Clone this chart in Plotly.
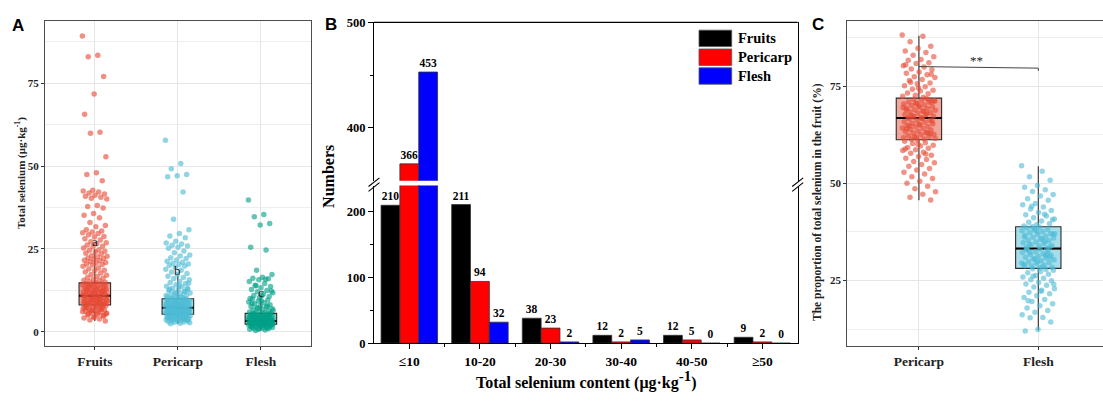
import plotly.graph_objects as go

W, H = 1103, 403
SERIF = "Liberation Serif"
SANS = "Liberation Sans"

# ---------------- Panel A data: total selenium (ug/kg) ----------------
groups_a = ["Fruits", "Pericarp", "Flesh"]
colors_a = ["#E64B35", "#4DBBD5", "#00A087"]
fruits_se = [
    89.2, 83.4, 83.0, 77.0, 71.7, 65.6, 60.2, 59.9, 52.8,
    48.0, 47.5, 45.6, 42.7, 42.5, 42.2, 41.9, 41.6, 41.2, 40.9, 40.6, 40.3, 40.1,
    38.1, 37.8, 37.4, 35.7, 35.2, 34.4, 33.0, 32.1, 31.7, 30.8, 30.4, 30.1,
    29.9, 29.7, 29.3, 28.8, 28.6, 28.1, 27.7, 27.2, 26.9, 26.6, 26.2, 25.8, 25.7, 25.3, 24.8, 24.6,
    24.3, 24.1, 23.7, 23.5, 23.0, 22.8, 22.6, 22.3, 22.1, 21.8, 21.6, 21.5, 21.2, 20.9, 20.8, 20.5, 20.3, 20.2,
    19.8, 19.3, 19.0, 18.6, 18.5, 18.1, 17.8, 17.3, 17.1, 16.7, 16.4, 16.2, 15.9, 15.6, 15.4, 15.1, 15.0,
    14.9, 14.7, 14.6, 14.3, 14.2, 14.0, 13.8, 13.7, 13.5, 13.3, 13.1, 13.0, 12.8, 12.6, 12.5, 12.3, 12.2,
    12.0, 11.9, 11.7, 11.5, 11.4, 11.2, 11.1, 10.9, 10.9, 10.7, 10.6, 10.4, 10.3, 10.1, 10.0,
    14.4, 13.9, 13.2, 12.7, 12.1, 11.6, 11.0, 10.5, 13.6, 12.4, 11.8, 10.8,
    9.9, 9.8, 9.6, 9.5, 9.4, 9.2, 9.1, 8.9, 8.8, 8.7, 8.5, 8.4, 8.2, 8.1, 9.7, 9.3, 9.0, 8.6, 8.3,
    9.85, 9.15, 8.65, 8.05,
    7.9, 7.8, 7.6, 7.4, 7.2, 7.1, 6.9, 6.7, 6.6, 6.4, 6.2, 6.0, 5.8, 5.6, 5.3, 5.1, 4.8, 4.5, 4.2, 3.9, 3.6, 3.3,
    7.7, 7.3, 6.8, 6.5, 6.1, 5.7, 5.4, 4.9, 4.4, 7.5, 7.0, 6.3, 5.5,
]
pericarp_se = [
    57.8, 50.8, 49.2, 47.5, 47.1, 46.8, 42.2, 34.0, 30.8,
    29.7, 28.9, 28.4, 27.3, 26.8, 26.5, 26.1, 25.9, 25.5, 25.2, 24.4, 23.9, 23.2, 22.9, 22.4, 22.1,
    21.7, 21.3, 21.0, 20.7, 20.5, 20.3, 20.1,
    19.9, 19.4, 18.9, 18.6, 18.1, 17.6, 17.3, 16.8, 16.4, 16.1, 15.7, 15.2, 14.9, 14.6, 14.2, 13.8,
    13.6, 13.2, 12.9, 12.7, 12.4, 12.1, 11.9, 11.7, 11.4, 11.2, 10.9, 10.7, 10.5, 10.3, 10.1,
    14.7, 13.9, 12.8, 12.2, 11.5, 11.0, 10.6, 10.2, 13.1,
    9.9, 9.8, 9.6, 9.5, 9.4, 9.2, 9.1, 8.9, 8.8, 8.7, 8.5, 8.4, 8.2, 8.1, 8.0, 7.9, 7.7, 7.6, 7.5,
    7.4, 7.3, 9.7, 9.3, 9.0, 8.6, 8.3, 7.8, 7.5, 9.9, 8.9, 8.4, 7.9, 7.4, 9.5, 8.5, 7.6,
    7.2, 7.1, 7.0, 6.9, 6.8, 6.7, 6.6, 6.5, 6.4, 6.3, 6.2, 6.1, 6.0, 5.9, 5.8, 5.7, 5.6, 5.5, 5.4,
    7.1, 6.8, 6.5, 6.2, 5.9, 5.6, 5.4, 7.0, 6.4, 6.0, 5.7, 6.9, 6.3,
    5.3, 5.2, 5.1, 5.0, 4.9, 4.8, 4.7, 4.6, 4.5, 4.4, 4.3, 4.2, 4.1, 4.0, 3.9, 3.8, 3.7, 3.6, 3.5,
    3.4, 3.3, 3.2, 3.1, 3.0, 2.9, 2.8, 2.6, 2.5, 5.2, 4.8, 4.5, 4.2, 3.9, 3.6, 5.0, 4.4, 3.8,
]
flesh_se = [
    39.8, 35.4, 34.7, 32.7, 32.2, 25.5, 24.7,
    18.6, 17.3, 16.5, 16.2, 16.0, 15.7, 15.2, 14.6, 14.1, 13.7, 13.3, 12.8, 12.5, 12.1, 11.8, 11.4,
    11.0, 10.7, 10.4, 10.1, 15.9, 13.9, 12.3, 10.9,
    9.9, 9.6, 9.3, 9.0, 8.8, 8.5, 8.2, 8.0, 7.7, 7.5, 7.3, 7.0, 6.8, 6.6, 6.4, 6.2, 6.0, 5.9, 5.8,
    5.7, 9.4, 8.6, 7.8, 7.1, 6.5,
    5.5, 5.4, 5.3, 5.2, 5.1, 5.0, 4.9, 4.8, 4.7, 4.6, 4.5, 4.4, 4.3, 4.2, 4.1, 4.0, 3.9, 3.8, 3.7,
    3.6, 3.5, 3.4, 5.4, 5.1, 4.8, 4.5, 4.2, 3.9, 3.6, 3.4, 5.2, 4.6, 4.0, 3.5, 4.3,
    3.3, 3.2, 3.2, 3.1, 3.1, 3.0, 3.0, 2.9, 2.9, 2.8, 2.8, 2.7, 2.7, 2.6, 2.6, 2.5, 2.5, 2.4, 2.4,
    2.3, 2.3, 3.2, 3.0, 2.8, 2.6, 2.4, 3.1, 2.7, 2.5,
    2.2, 2.2, 2.1, 2.0, 1.9, 1.9, 1.8, 1.7, 1.6, 1.5, 1.4, 1.3, 1.2, 1.1, 1.0, 0.9, 0.8, 0.6, 0.4,
    2.1, 1.8, 1.5, 1.2, 0.9,
]
box_q1_a = [8.1, 5.35, 2.3]
box_median_a = [10.9, 7.3, 3.3]
box_q3_a = [14.8, 10.0, 5.6]
box_low_a = [3.3, 2.5, 0.4]
box_up_a = [24.9, 16.9, 10.5]
letters_a = ["a", "b", "c"]
letter_y_a = [27.3, 18.6, 12.0]

# ---------------- Panel B data: counts per content class ----------------
bins_b = ["≤10", "10-20", "20-30", "30-40", "40-50", "≥50"]
series_b = ["Fruits", "Pericarp", "Flesh"]
counts_fruits = [210, 211, 38, 12, 12, 9]
counts_pericarp = [366, 94, 23, 2, 5, 2]
counts_flesh = [453, 32, 2, 5, 0, 0]
colors_b = ["#000000", "#FF0000", "#0000FF"]

# ---------------- Panel C data: proportion of total selenium (%) ----------------
groups_c = ["Pericarp", "Flesh"]
colors_c = ["#E64B35", "#4DBBD5"]
pericarp_pct = [
    88.1, 87.8, 86.4, 85.2, 84.7, 84.0, 83.6, 82.9, 82.5, 81.8, 81.6, 81.0, 80.8, 80.2, 79.9, 79.4,
    79.2, 78.6, 78.3, 77.9, 77.4, 77.2, 76.7, 76.4, 75.8, 75.6, 75.1, 74.8, 74.2, 73.9, 73.7, 73.2,
    73.0, 72.6, 72.4, 72.1, 76.0, 78.0, 74.5, 80.5,
    71.8, 71.6, 71.3, 71.2, 70.9, 70.8, 70.5, 70.4, 70.1, 70.0, 69.7, 69.6, 69.3, 69.2, 68.9, 68.8,
    68.5, 68.4, 68.1, 68.0, 67.7, 67.6, 67.3, 67.2, 66.9, 66.9, 71.5, 70.6, 69.5, 68.6, 67.5, 70.9,
    69.9, 68.9, 67.9, 67.0, 71.1,
    66.7, 66.5, 66.2, 66.1, 65.8, 65.7, 65.4, 65.3, 65.0, 64.9, 64.6, 64.5, 64.2, 64.1, 63.8, 63.7,
    63.4, 63.3, 63.0, 62.9, 62.6, 62.5, 62.2, 62.1, 61.8, 61.7, 61.4, 61.3, 66.0, 65.1, 64.0, 63.1,
    62.0, 61.5, 66.6, 64.7, 62.7,
    61.1, 60.8, 60.4, 60.2, 59.8, 59.6, 59.2, 59.0, 58.6, 58.4, 58.0, 57.7, 57.2, 56.9, 56.4, 56.1,
    55.6, 55.3, 54.8, 54.4, 53.8, 53.4, 52.8, 52.4, 51.7, 51.2, 50.5, 50.0, 49.2, 48.6, 47.8, 47.2,
    46.4, 45.7, 60.0, 58.8, 57.5,
]
flesh_pct = [
    54.5, 53.1, 51.7, 50.8, 49.4, 49.0, 48.3, 47.9, 47.1, 46.7, 46.0, 45.6, 44.8, 44.5, 43.9, 43.4,
    43.0, 42.5, 41.9, 41.6, 41.1, 40.8, 40.3, 40.0, 39.6, 39.3, 39.0, 42.0, 44.1, 40.6,
    38.7, 38.5, 38.2, 38.0, 37.8, 37.5, 37.3, 37.1, 36.8, 36.6, 36.4, 36.1, 35.9, 35.6, 35.4, 35.2,
    34.9, 34.7, 34.5, 34.2, 34.0, 33.8, 33.5, 33.3, 38.4, 37.0, 35.8, 34.4, 33.6, 37.6, 36.2, 35.0,
    38.8, 36.9,
    33.1, 32.9, 32.6, 32.4, 32.2, 31.9, 31.7, 31.5, 31.2, 31.0, 30.8, 30.5, 30.3, 30.1, 29.8, 29.6,
    29.4, 29.1, 28.9, 28.7, 28.4, 28.2, 33.0, 31.8, 30.6, 29.5, 28.5, 32.3, 30.9, 29.9, 28.8, 31.4,
    28.0, 27.6, 27.3, 27.0, 26.6, 26.3, 25.9, 25.6, 25.2, 24.9, 24.5, 24.1, 23.8, 23.3, 22.9, 22.5,
    22.0, 21.6, 21.1, 20.6, 20.1, 19.6, 19.0, 18.5, 17.9, 17.3, 16.8, 16.2, 15.5, 15.4, 14.3, 12.4,
    12.0, 27.8, 26.1, 24.0, 22.2, 19.8,
]
box_q1_c = [61.2, 28.1]
box_median_c = [66.8, 33.2]
box_q3_c = [71.9, 38.8]
box_low_c = [45.6, 12.2]
box_up_c = [87.9, 54.4]
sig_label = "**"
sig_y = [80.0, 79.6, 78.9]


# ---------------- helpers ----------------
def px(x):
    return x / W


def py(y):
    return 1 - y / H


def rgba(hexcol, a):
    h = hexcol.lstrip("#")
    return "rgba(%d,%d,%d,%.2f)" % (int(h[0:2], 16), int(h[2:4], 16), int(h[4:6], 16), a)


def jitter(center, n, half):
    # deterministic low-discrepancy spread (golden-ratio sequence)
    return [center + (((k * 0.6180339887) % 1.0) - 0.5) * 2 * half for k in range(n)]


def add_boxes(fig, q1, med, q3, lo, up, cols, alpha, xa, ya):
    for i, col in enumerate(cols):
        fig.add_trace(go.Box(
            x=[i + 1], q1=[q1[i]], median=[med[i]], q3=[q3[i]],
            lowerfence=[lo[i]], upperfence=[up[i]],
            width=0.38, fillcolor=rgba(col, alpha), line=dict(color="#2b2b2b", width=1.1),
            whiskerwidth=0, boxpoints=False, xaxis=xa, yaxis=ya, showlegend=False,
            hoverinfo="skip"))
        # thicker black median bar
        fig.add_trace(go.Box(
            x=[i + 1], q1=[med[i]], median=[med[i]], q3=[med[i]],
            lowerfence=[med[i]], upperfence=[med[i]],
            width=0.38, fillcolor="rgba(0,0,0,0)", line=dict(color="black", width=2),
            whiskerwidth=0, boxpoints=False, xaxis=xa, yaxis=ya, showlegend=False,
            hoverinfo="skip"))


fig = go.Figure()

# ---------------- Panel A ----------------
for i, (vals, col) in enumerate(zip([fruits_se, pericarp_se, flesh_se], colors_a)):
    fig.add_trace(go.Scatter(
        x=jitter(i + 1, len(vals), 0.15), y=vals, mode="markers",
        marker=dict(color=col, size=5.5, opacity=0.62, line=dict(width=0)),
        xaxis="x", yaxis="y", showlegend=False, hoverinfo="skip"))
add_boxes(fig, box_q1_a, box_median_a, box_q3_a, box_low_a, box_up_a, colors_a, 0.55, "x", "y")

# ---------------- Panel B ----------------
B_LOW_MAX = 240
B_UP_MIN = 350
xs_b = list(range(len(bins_b)))
for name, cnt, col in zip(series_b, [counts_fruits, counts_pericarp, counts_flesh], colors_b):
    low_txt = [str(v) if v <= B_LOW_MAX else " " for v in cnt]
    up_txt = [str(v) if v > B_LOW_MAX else " " for v in cnt]
    common = dict(x=xs_b, y=cnt, name=name, offsetgroup=name,
                  marker=dict(color=col, line=dict(color="#333333", width=0.8)),
                  textposition="outside", constraintext="none",
                  textfont=dict(family=SERIF, size=11.5, color="black", weight="bold"),
                  showlegend=False, hoverinfo="skip")
    fig.add_trace(go.Bar(text=low_txt, xaxis="x2", yaxis="y2", **common))
    fig.add_trace(go.Bar(text=up_txt, xaxis="x2", yaxis="y3", **common))

# ---------------- Panel C ----------------
for i, (vals, col) in enumerate(zip([pericarp_pct, flesh_pct], colors_c)):
    fig.add_trace(go.Scatter(
        x=jitter(i + 1, len(vals), 0.14), y=vals, mode="markers",
        marker=dict(color=col, size=5.5, opacity=0.6, line=dict(width=0)),
        xaxis="x3", yaxis="y4", showlegend=False, hoverinfo="skip"))
add_boxes(fig, box_q1_c, box_median_c, box_q3_c, box_low_c, box_up_c, colors_c, 0.5, "x3", "y4")

# ---------------- axes ----------------
GRID = "#E6E6E6"
BORDER = "#4d4d4d"
tick_font_s = dict(family=SERIF, size=11, color="#222222", weight="bold")
cat_font = dict(family=SERIF, size=13.5, color="#222222", weight="bold")
minor_grid = dict(tickvals=[12.5, 37.5, 62.5, 87.5], showgrid=True, gridcolor="#EEEEEE",
                  gridwidth=0.8, ticks="")

layout_axes = dict(
    xaxis=dict(domain=[px(45), px(310.7)], range=[0.4, 3.6], tickvals=[1, 2, 3], ticktext=groups_a,
               showgrid=True, gridcolor=GRID, gridwidth=1, zeroline=False,
               showline=True, linecolor=BORDER, linewidth=1, mirror=True,
               ticks="outside", ticklen=3, tickcolor="#333", tickfont=cat_font, anchor="y"),
    yaxis=dict(domain=[py(350.7), py(15)], range=[-4.1, 93.6], tickvals=[0, 25, 50, 75],
               showgrid=True, gridcolor=GRID, gridwidth=1, zeroline=False, minor=minor_grid,
               showline=True, linecolor=BORDER, linewidth=1, mirror=True,
               ticks="outside", ticklen=3, tickcolor="#333", tickfont=tick_font_s, anchor="x"),
    xaxis2=dict(domain=[px(374), px(797.7)], range=[-0.5, 5.5], tickvals=xs_b, ticktext=bins_b,
                showgrid=False, zeroline=False, showline=True, linecolor="black", linewidth=1.2,
                ticks="outside", ticklen=5, tickcolor="black", tickwidth=1.2,
                minor=dict(tickvals=[k + 0.5 for k in xs_b[:-1]], ticks="outside", ticklen=3,
                           tickcolor="black", tickwidth=1.2, showgrid=False),
                tickfont=dict(family=SERIF, size=13.5, color="black", weight="bold"), anchor="y2"),
    yaxis2=dict(domain=[py(348.3), py(185)], range=[0, B_LOW_MAX], tickvals=[0, 100, 200],
                showgrid=False, zeroline=False, showline=True, linecolor="black", linewidth=1.2,
                mirror=True, ticks="outside", ticklen=5, tickcolor="black", tickwidth=1.2,
                minor=dict(tickvals=[50, 150], ticks="outside", ticklen=3, tickcolor="black",
                           tickwidth=1.2, showgrid=False),
                tickfont=dict(family=SERIF, size=12.5, color="black", weight="bold"), anchor="x2"),
    yaxis3=dict(domain=[py(180), py(16)], range=[B_UP_MIN, 500], tickvals=[400, 500],
                showgrid=False, zeroline=False, showline=True, linecolor="black", linewidth=1.2,
                mirror=True, ticks="outside", ticklen=5, tickcolor="black", tickwidth=1.2,
                minor=dict(tickvals=[450], ticks="outside", ticklen=3, tickcolor="black",
                           tickwidth=1.2, showgrid=False),
                tickfont=dict(family=SERIF, size=12.5, color="black", weight="bold"), anchor="x2"),
    xaxis3=dict(domain=[px(847.3), 1.0], range=[0.4, 2.542], tickvals=[1, 2], ticktext=groups_c,
                showgrid=True, gridcolor=GRID, gridwidth=1, zeroline=False,
                showline=True, linecolor=BORDER, linewidth=1, mirror=True,
                ticks="outside", ticklen=3, tickcolor="#333", tickfont=cat_font, anchor="y4"),
    yaxis4=dict(domain=[py(351), py(15)], range=[8.2, 91.6], tickvals=[25, 50, 75],
                showgrid=True, gridcolor=GRID, gridwidth=1, zeroline=False, minor=minor_grid,
                showline=True, linecolor=BORDER, linewidth=1, mirror=False,
                ticks="outside", ticklen=3, tickcolor="#333", tickfont=tick_font_s, anchor="x3"),
)

# ---------------- shapes ----------------
shapes = []
# top border of panel B
shapes.append(dict(type="line", xref="x2 domain", yref="y3 domain", x0=0, x1=1, y0=1, y1=1,
                   line=dict(color="black", width=1.2)))
# axis-break marks
for xb in (374, 797.7):
    for dy in (0, 5):
        shapes.append(dict(type="line", xref="paper", yref="paper",
                           x0=px(xb - 5.5), y0=py(186 + dy), x1=px(xb + 5.5), y1=py(177 + dy),
                           line=dict(color="black", width=1.1)))
# legend of panel B (drawn manually to match the large swatches)
for k, (name, col) in enumerate(zip(series_b, colors_b)):
    top = 24 + k * 19.5
    shapes.append(dict(type="rect", xref="paper", yref="paper",
                       x0=px(699), x1=px(731.7), y0=py(top + 17), y1=py(top),
                       fillcolor=col, line=dict(color="#555555", width=0.8)))
# significance bracket in panel C
shapes.append(dict(type="line", xref="x3", yref="y4", x0=1, x1=2, y0=sig_y[0], y1=sig_y[1],
                   line=dict(color="#444444", width=1)))
shapes.append(dict(type="line", xref="x3", yref="y4", x0=2, x1=2, y0=sig_y[1], y1=sig_y[2],
                   line=dict(color="#444444", width=1)))

# ---------------- annotations ----------------
ann = []
for k, name in enumerate(series_b):
    top = 24 + k * 19.5
    ann.append(dict(text=name, xref="paper", yref="paper", x=px(736), y=py(top + 8.5),
                    xanchor="left", yanchor="middle", showarrow=False,
                    font=dict(family=SERIF, size=14.5, color="black", weight="bold")))
for i, (lt, ly) in enumerate(zip(letters_a, letter_y_a)):
    ann.append(dict(text=lt, xref="x", yref="y", x=i + 1, y=ly, showarrow=False,
                    xanchor="center", yanchor="middle",
                    font=dict(family=SERIF, size=13, color="#1a1a1a")))
ann.append(dict(text=sig_label, xref="x3", yref="y4", x=1.48, y=sig_y[0] + 1.6, showarrow=False,
                xanchor="center", yanchor="middle",
                font=dict(family=SERIF, size=13, color="#1a1a1a")))
for lbl, (lx, ly) in zip(["A", "B", "C"], [(18.3, 19.2), (331.3, 17.8), (818.3, 18.3)]):
    ann.append(dict(text="<b>%s</b>" % lbl, xref="paper", yref="paper", x=px(lx), y=py(ly),
                    xanchor="center", yanchor="middle", showarrow=False,
                    font=dict(family=SANS, size=17, color="black")))
ann.append(dict(text="<b>Total selenium (μg·kg<sup>-1</sup>)</b>", xref="paper", yref="paper",
                x=px(20), y=py(172), textangle=-90, showarrow=False,
                xanchor="center", yanchor="middle", font=dict(family=SERIF, size=11, color="#222")))
ann.append(dict(text="<b>Numbers</b>", xref="paper", yref="paper", x=px(329), y=py(176),
                textangle=-90, showarrow=False, xanchor="center", yanchor="middle",
                font=dict(family=SERIF, size=16, color="black")))
ann.append(dict(text="<b>Total selenium content (μg·kg<sup><span style='font-size:15px'>-1</span></sup>)</b>",
                xref="paper", yref="paper",
                x=px(586), y=py(386), showarrow=False, xanchor="center", yanchor="middle",
                font=dict(family=SERIF, size=16, color="black")))
ann.append(dict(text="<b>The proportion of total selenium in the fruit (%)</b>", xref="paper",
                yref="paper", x=px(818), y=py(202), textangle=-90, showarrow=False,
                xanchor="center", yanchor="middle", font=dict(family=SERIF, size=11.5, color="#222")))

fig.update_layout(
    width=W, height=H, margin=dict(l=0, r=0, t=0, b=0),
    paper_bgcolor="white", plot_bgcolor="white",
    barmode="group", bargap=0.2, bargroupgap=0, boxmode="overlay",
    showlegend=False, shapes=shapes, annotations=ann, **layout_axes)

fig.write_html("out.html", config={"displayModeBar": False},
               post_script="document.body.style.margin='0';")
